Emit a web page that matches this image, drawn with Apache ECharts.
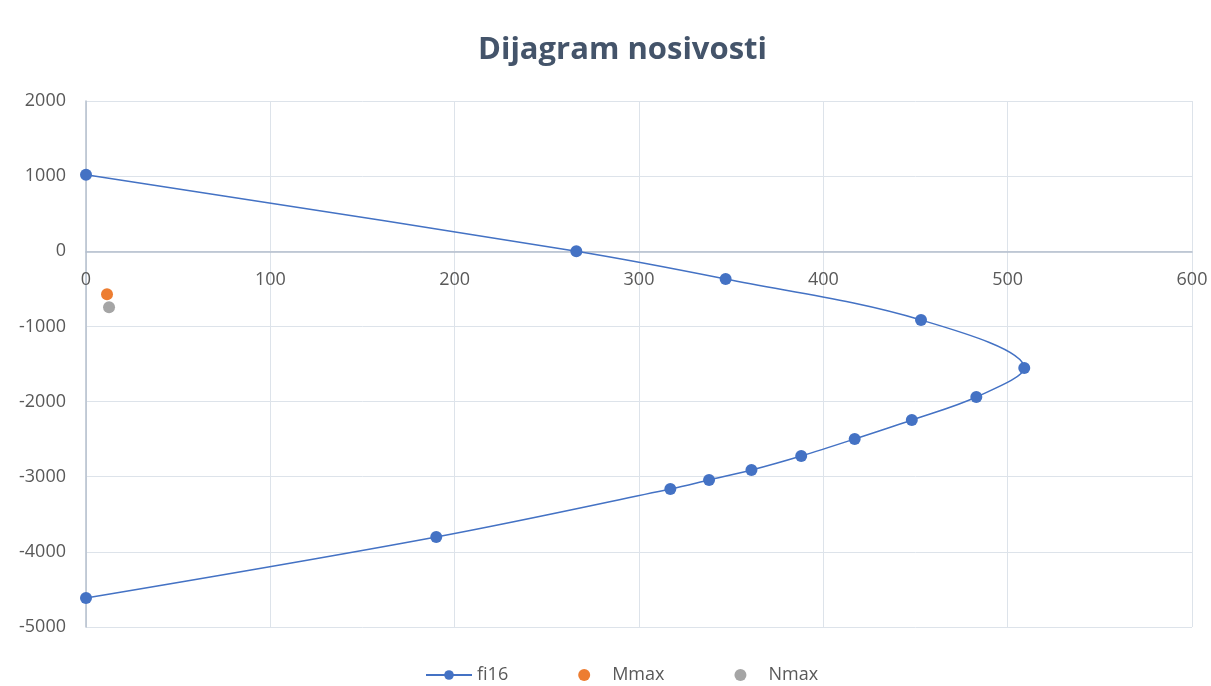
<!DOCTYPE html>
<html>
<head>
<meta charset="utf-8">
<script src="https://cdn.jsdelivr.net/npm/echarts@6/dist/echarts.min.js"></script>
<style>
  html, body { margin: 0; padding: 0; background: #fff; }
  #chart { width: 1211px; height: 686px; }
</style>
</head>
<body>
<div id="chart"></div>
<script>
// Interaction diagram: bending moment M (x) vs axial force N (y)
const fi16M = [0, 266, 347, 453, 509, 483, 448, 417, 388, 361, 338, 317, 190, 0];
const fi16N = [1020, 0, -369, -914, -1553, -1939, -2245, -2498, -2724, -2911, -3044, -3164, -3803, -4615];
const mmaxPoint = [11.4, -572];
const nmaxPoint = [12.5, -745];

const xTicks = { min: 0, max: 600, interval: 100 };
const yTicks = { min: -5000, max: 2000, interval: 1000 };

const fi16 = fi16M.map((m, i) => [m, fi16N[i]]);

const W = 1211, H = 686;
const grid = { left: 86, right: 19, top: 101, bottom: 59 };
// the horizontal axis sits on N = 0, so shift it up from the bottom edge
const plotH = H - grid.top - grid.bottom;
const zeroY = grid.top + plotH * (yTicks.max - 0) / (yTicks.max - yTicks.min);
const xAxisOffset = -((H - grid.bottom) - zeroY);

const labelFont = 'Open Sans, Noto Sans, sans-serif';
const plain = v => String(v);

const chart = echarts.init(document.getElementById('chart'));
chart.setOption({
  backgroundColor: '#ffffff',
  animation: false,
  title: {
    text: 'Dijagram nosivosti',
    left: 473,
    top: 30,
    textStyle: { fontFamily: labelFont, fontSize: 31, fontWeight: 'bold', color: '#44546a' }
  },
  legend: {
    top: 661,
    left: 420,
    itemGap: 70,
    itemWidth: 46,
    itemHeight: 12,
    textStyle: { fontFamily: labelFont, fontSize: 18, color: '#595959' },
    data: [
      { name: 'fi16' },
      { name: 'Mmax', icon: 'circle', itemStyle: { color: '#ed7d31' } },
      { name: 'Nmax', icon: 'circle', itemStyle: { color: '#a5a5a5' } }
    ]
  },
  grid: grid,
  xAxis: {
    type: 'value',
    position: 'bottom',
    offset: xAxisOffset,
    min: xTicks.min, max: xTicks.max, interval: xTicks.interval,
    axisLine: { onZero: false, lineStyle: { color: '#b4bfcd', width: 1.5 } },
    axisTick: { show: false },
    axisLabel: { color: '#595959', fontFamily: labelFont, fontSize: 18, margin: 20, formatter: plain },
    splitLine: { lineStyle: { color: '#dde3ea', width: 1 } }
  },
  yAxis: {
    type: 'value',
    min: yTicks.min, max: yTicks.max, interval: yTicks.interval,
    axisLine: { show: true, onZero: false, lineStyle: { color: '#b4bfcd', width: 1.5 } },
    axisTick: { show: false },
    axisLabel: { color: '#595959', fontFamily: labelFont, fontSize: 18, margin: 20, formatter: plain },
    splitLine: { lineStyle: { color: '#dde3ea', width: 1 } }
  },
  series: [
    {
      name: 'fi16',
      type: 'line',
      data: fi16,
      smooth: 0.35,
      symbol: 'circle',
      symbolSize: 12,
      lineStyle: { color: '#4472c4', width: 1.5 },
      itemStyle: { color: '#4472c4' },
      z: 3
    },
    {
      name: 'Mmax',
      type: 'scatter',
      data: [mmaxPoint],
      symbol: 'circle',
      symbolSize: 12,
      itemStyle: { color: '#ed7d31', opacity: 1 }
    },
    {
      name: 'Nmax',
      type: 'scatter',
      data: [nmaxPoint],
      symbol: 'circle',
      symbolSize: 12,
      itemStyle: { color: '#a5a5a5', opacity: 1 }
    }
  ]
});
</script>
</body>
</html>
